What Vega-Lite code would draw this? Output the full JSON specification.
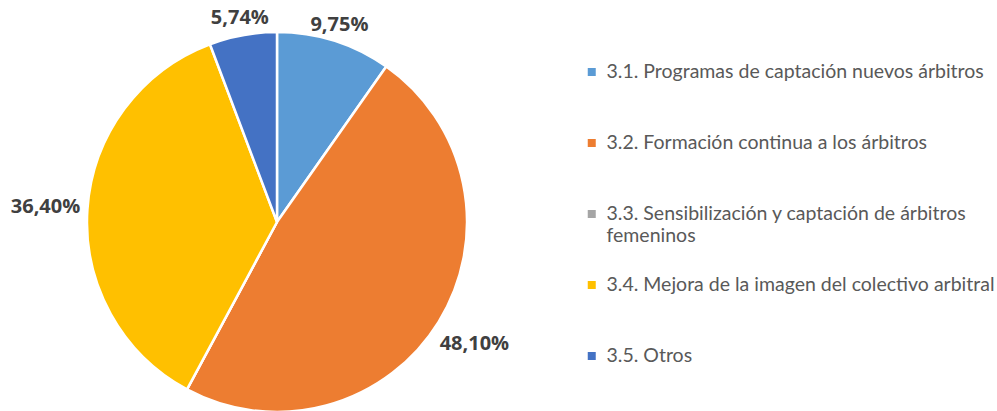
{
  "$schema": "https://vega.github.io/schema/vega-lite/v6.json",
  "width": 554,
  "height": 444,
  "autosize": {"type": "none"},
  "padding": {"left": 0, "top": 0, "right": 443, "bottom": 0},
  "background": "white",
  "config": {
    "view": {"stroke": null},
    "locale": {"number": {"decimal": ",", "thousands": ".", "grouping": [3], "currency": ["", " €"]}}
  },
  "data": {
    "values": [
      {"categoria": "3.1. Programas de captación nuevos árbitros", "valor": 0.0975},
      {"categoria": "3.2. Formación continua a los árbitros", "valor": 0.481},
      {"categoria": "3.3. Sensibilización y captación de árbitros femeninos", "valor": 0.0},
      {"categoria": "3.4. Mejora de la imagen del colectivo arbitral", "valor": 0.364},
      {"categoria": "3.5. Otros", "valor": 0.0574}
    ]
  },
  "encoding": {
    "theta": {"field": "valor", "type": "quantitative", "stack": true},
    "order": {"field": "categoria"}
  },
  "layer": [
    {
      "mark": {"type": "arc", "outerRadius": 190, "stroke": "white", "strokeWidth": 2.5},
      "encoding": {
        "color": {
          "field": "categoria",
          "type": "nominal",
          "scale": {
            "domain": [
              "3.1. Programas de captación nuevos árbitros",
              "3.2. Formación continua a los árbitros",
              "3.3. Sensibilización y captación de árbitros femeninos",
              "3.4. Mejora de la imagen del colectivo arbitral",
              "3.5. Otros"
            ],
            "range": ["#5B9BD5", "#ED7D31", "#A5A5A5", "#FFC000", "#4472C4"]
          },
          "legend": {
            "title": null,
            "orient": "none",
            "legendX": 582,
            "legendY": 62,
            "symbolType": "square",
            "symbolSize": 64,
            "symbolStrokeWidth": 0,
            "labelFont": "Lato",
            "labelFontSize": 19.5,
            "labelColor": "#595959",
            "labelLimit": 500,
            "labelOffset": 5,
            "clipHeight": 20,
            "gridAlign": "all",
            "rowPadding": 30,
            "labelExpr": "datum.label == '3.3. Sensibilización y captación de árbitros femeninos' ? ['3.3. Sensibilización y captación de árbitros', 'femeninos'] : datum.label"
          }
        }
      }
    },
    {
      "mark": {"type": "text", "radius": 207, "font": "Open Sans", "fontSize": 20, "fontWeight": "bold", "color": "#404040"},
      "encoding": {
        "text": {"field": "valor", "type": "quantitative", "format": ".2%"},
        "opacity": {"condition": {"test": "datum.valor > 0 && datum.valor < 0.2", "value": 1}, "value": 0}
      }
    },
    {
      "mark": {"type": "text", "radius": 232, "font": "Open Sans", "fontSize": 20, "fontWeight": "bold", "color": "#404040"},
      "encoding": {
        "text": {"field": "valor", "type": "quantitative", "format": ".2%"},
        "opacity": {"condition": {"test": "datum.valor >= 0.2", "value": 1}, "value": 0}
      }
    }
  ]
}
